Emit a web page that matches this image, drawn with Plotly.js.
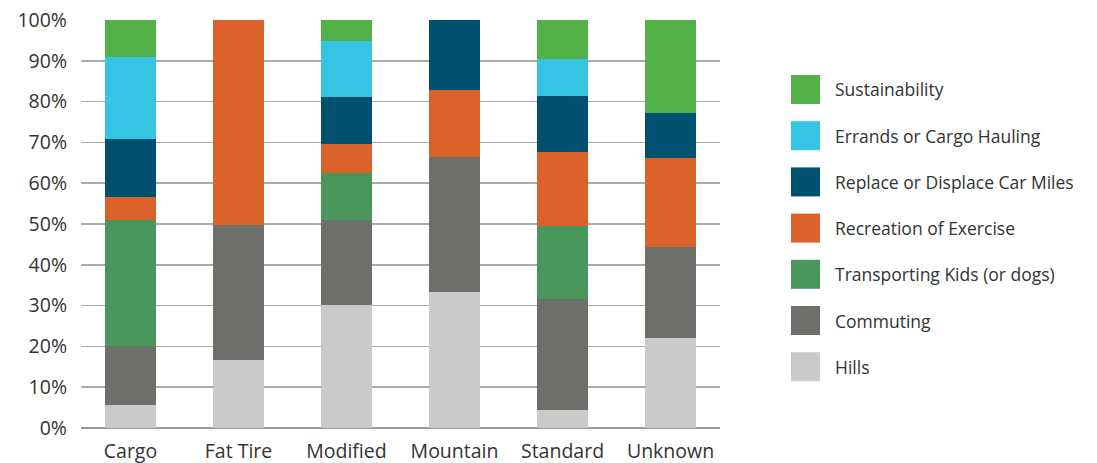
<!DOCTYPE html>
<html>
<head>
<meta charset="utf-8">
<script src="https://cdn.plot.ly/plotly-3.0.1.min.js"></script>
<style>html,body{margin:0;padding:0;background:#fff;}#chart{width:1097px;height:463px;}</style>
</head>
<body>
<div id="chart"></div>
<script>
const categories = ["Cargo", "Fat Tire", "Modified", "Mountain", "Standard", "Unknown"];
const seriesNames = ["Hills", "Commuting", "Transporting Kids (or dogs)", "Recreation of Exercise", "Replace or Displace Car Miles", "Errands or Cargo Hauling", "Sustainability"];
const hills          = [5.6, 16.7, 30.1, 33.3, 4.4, 22.1];
const commuting      = [14.5, 33.1, 21.0, 33.1, 27.2, 22.3];
const transportKids  = [30.9, 0, 11.4, 0, 17.9, 0];
const recreation     = [5.6, 50.2, 7.1, 16.4, 18.1, 21.8];
const replaceCar     = [14.2, 0, 11.5, 17.2, 13.8, 11.0];
const errands        = [20.1, 0, 13.8, 0, 9.0, 0];
const sustainability = [9.1, 0, 5.1, 0, 9.6, 22.8];
const tickVals = [0, 10, 20, 30, 40, 50, 60, 70, 80, 90, 100];
const tickText = ["0%", "10%", "20%", "30%", "40%", "50%", "60%", "70%", "80%", "90%", "100%"];
const colors = ["#cbcacb", "#6d706a", "#4a975e", "#db612b", "#005170", "#36c4e5", "#53b247"];

const seriesValues = [hills, commuting, transportKids, recreation, replaceCar, errands, sustainability];
const traces = seriesValues.map((vals, i) => ({
  type: "bar",
  name: seriesNames[i],
  x: categories,
  y: vals,
  marker: {color: colors[i], line: {width: 0}},
  showlegend: false,
  hoverinfo: "name+y"
}));

// custom legend (order top to bottom: reversed series)
const W = 1097, H = 463;
const mL = 81, mR = 377, mT = 20, mB = 35;
const pw = W - mL - mR, ph = H - mT - mB;
const px2x = p => (p - mL) / pw;
const py2y = p => (H - mB - p) / ph;
const shapes = [], annotations = [];
const legendOrder = seriesNames.map((n, i) => i).reverse();
legendOrder.forEach((si, k) => {
  const cy = 89.5 + k * 46.2;
  shapes.push({type: "rect", xref: "paper", yref: "paper",
    x0: px2x(791), x1: px2x(820), y0: py2y(cy + 14.5), y1: py2y(cy - 14.5),
    fillcolor: colors[si], line: {width: 0}});
  annotations.push({xref: "paper", yref: "paper", x: px2x(833), y: py2y(cy),
    xanchor: "left", yanchor: "middle", showarrow: false, text: seriesNames[si],
    font: {size: 17.5, color: "#333"}});
});

const layout = {
  width: W, height: H,
  margin: {l: mL, r: mR, t: mT, b: mB},
  barmode: "stack",
  bargap: 0.528,
  paper_bgcolor: "#fff", plot_bgcolor: "#fff",
  font: {family: "'Open Sans', Lato, sans-serif", color: "#333"},
  showlegend: false,
  xaxis: {
    range: [-0.458, 5.458],
    showgrid: false, zeroline: false, showline: false,
    ticks: "", ticklabelstandoff: 9, tickfont: {size: 19.5, color: "#333"}
  },
  yaxis: {
    range: [0, 100],
    tickvals: tickVals, ticktext: tickText,
    showgrid: true, gridcolor: "#aaaaaa", gridwidth: 1.5,
    zeroline: true, zerolinecolor: "#999", zerolinewidth: 1.5,
    showline: false, ticks: "", ticklabelstandoff: 13,
    tickfont: {size: 19.5, color: "#333"}
  },
  shapes: shapes,
  annotations: annotations
};

Plotly.newPlot("chart", traces, layout, {displayModeBar: false, staticPlot: true});
</script>
</body>
</html>
